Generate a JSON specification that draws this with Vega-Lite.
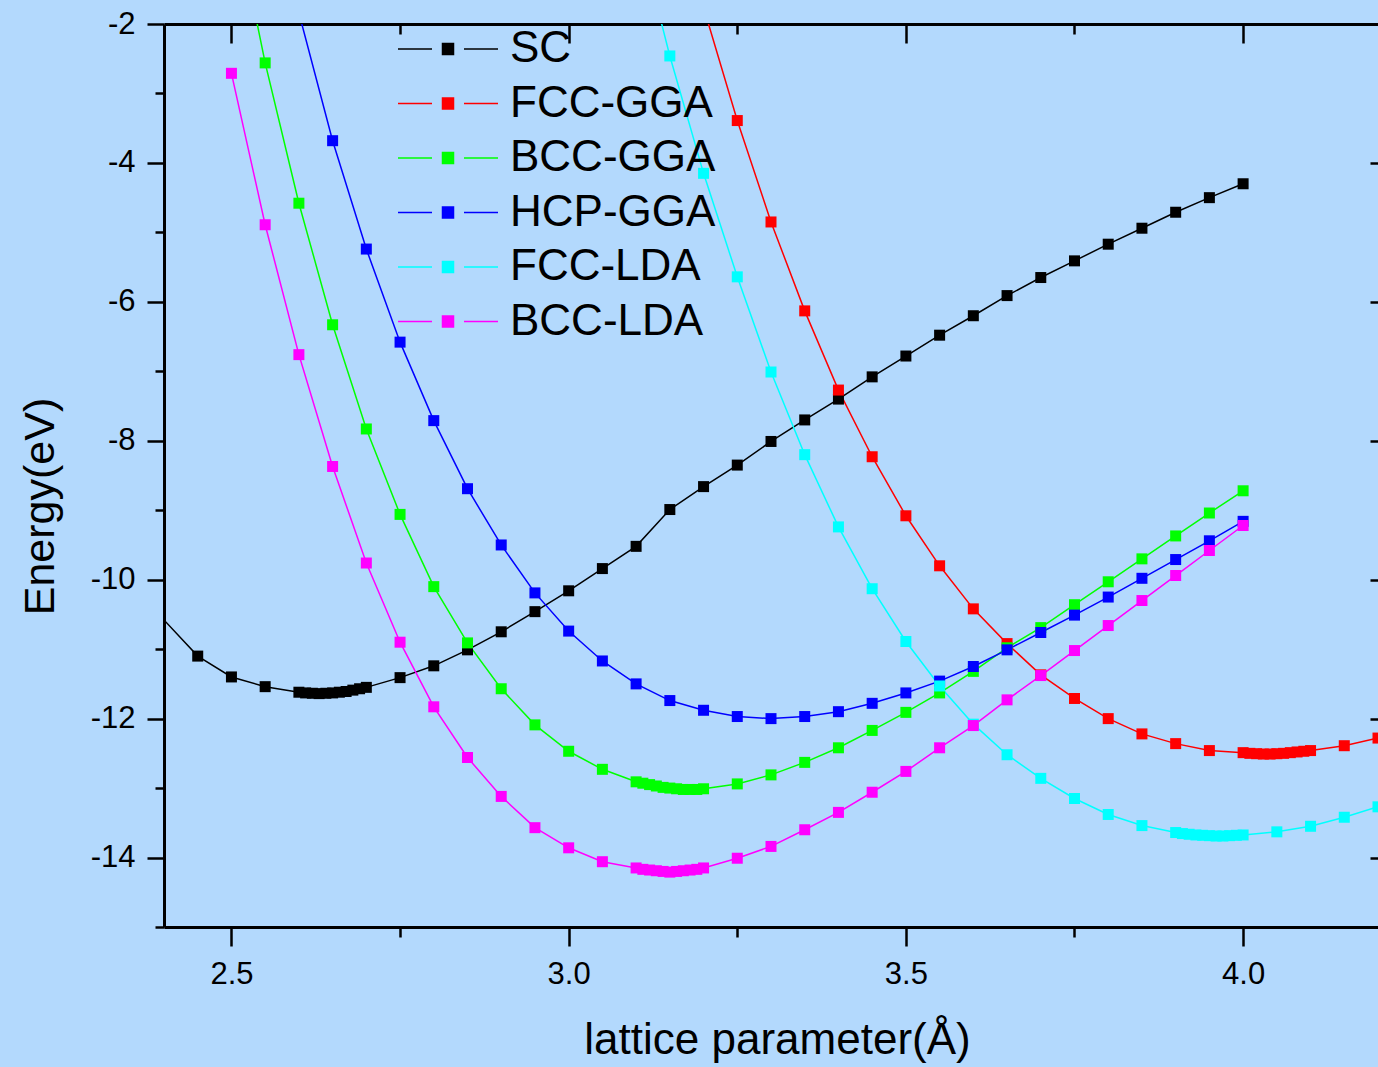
{
  "$schema": "https://vega.github.io/schema/vega-lite/v6.json",
  "autosize": "none",
  "width": 1214,
  "height": 903,
  "padding": {"left": 164, "top": 24, "right": 0, "bottom": 140},
  "background": "#b3d9fd",
  "config": {
    "view": {"stroke": null},
    "font": "Liberation Sans",
    "axis": {"grid": false, "domainColor": "black", "domainWidth": 3, "tickColor": "black", "tickWidth": 2.5, "labelColor": "black", "titleColor": "black", "titleFontWeight": "normal", "labelFont": "Liberation Sans", "titleFont": "Liberation Sans"},
    "legend": {"orient": "none", "legendX": 262, "legendY": 3, "title": null, "padding": 0,
      "symbolType": "M-5,0H-1.6M1.6,0H5M-0.55,-0.55H0.55V0.55H-0.55Z", "symbolSize": 400, "symbolStrokeWidth": 1.5,
      "labelFontSize": 44, "labelFont": "Liberation Sans", "labelColor": "black", "labelOffset": 40, "rowPadding": 10.5, "labelLimit": 0}
  },
  "data": {"values": [
    {"s":"SC","x":2.35,"y":-10.06},{"s":"SC","x":2.45,"y":-11.10},{"s":"SC","x":2.50,"y":-11.40},{"s":"SC","x":2.55,"y":-11.54},
    {"s":"SC","x":2.60,"y":-11.62},{"s":"SC","x":2.61,"y":-11.63},{"s":"SC","x":2.62,"y":-11.635},{"s":"SC","x":2.63,"y":-11.64},{"s":"SC","x":2.64,"y":-11.635},{"s":"SC","x":2.65,"y":-11.63},{"s":"SC","x":2.66,"y":-11.62},{"s":"SC","x":2.67,"y":-11.61},{"s":"SC","x":2.68,"y":-11.59},{"s":"SC","x":2.69,"y":-11.57},{"s":"SC","x":2.70,"y":-11.55},
    {"s":"SC","x":2.75,"y":-11.41},{"s":"SC","x":2.80,"y":-11.24},{"s":"SC","x":2.85,"y":-11.01},{"s":"SC","x":2.90,"y":-10.75},{"s":"SC","x":2.95,"y":-10.46},{"s":"SC","x":3.00,"y":-10.16},{"s":"SC","x":3.05,"y":-9.84},{"s":"SC","x":3.10,"y":-9.52},{"s":"SC","x":3.15,"y":-8.99},{"s":"SC","x":3.20,"y":-8.66},{"s":"SC","x":3.25,"y":-8.35},{"s":"SC","x":3.30,"y":-8.01},{"s":"SC","x":3.35,"y":-7.70},{"s":"SC","x":3.40,"y":-7.40},{"s":"SC","x":3.45,"y":-7.08},{"s":"SC","x":3.50,"y":-6.78},{"s":"SC","x":3.55,"y":-6.48},{"s":"SC","x":3.60,"y":-6.20},{"s":"SC","x":3.65,"y":-5.91},{"s":"SC","x":3.70,"y":-5.65},{"s":"SC","x":3.75,"y":-5.41},{"s":"SC","x":3.80,"y":-5.17},{"s":"SC","x":3.85,"y":-4.94},{"s":"SC","x":3.90,"y":-4.71},{"s":"SC","x":3.95,"y":-4.50},{"s":"SC","x":4.00,"y":-4.30},

    {"s":"FCC-GGA","x":3.20,"y":-1.76},{"s":"FCC-GGA","x":3.25,"y":-3.39},{"s":"FCC-GGA","x":3.30,"y":-4.85},{"s":"FCC-GGA","x":3.35,"y":-6.13},{"s":"FCC-GGA","x":3.40,"y":-7.27},{"s":"FCC-GGA","x":3.45,"y":-8.23},{"s":"FCC-GGA","x":3.50,"y":-9.08},{"s":"FCC-GGA","x":3.55,"y":-9.80},{"s":"FCC-GGA","x":3.60,"y":-10.42},{"s":"FCC-GGA","x":3.65,"y":-10.92},{"s":"FCC-GGA","x":3.70,"y":-11.37},{"s":"FCC-GGA","x":3.75,"y":-11.71},{"s":"FCC-GGA","x":3.80,"y":-12.00},{"s":"FCC-GGA","x":3.85,"y":-12.22},{"s":"FCC-GGA","x":3.90,"y":-12.36},{"s":"FCC-GGA","x":3.95,"y":-12.46},
    {"s":"FCC-GGA","x":4.00,"y":-12.49},{"s":"FCC-GGA","x":4.01,"y":-12.50},{"s":"FCC-GGA","x":4.02,"y":-12.505},{"s":"FCC-GGA","x":4.03,"y":-12.51},{"s":"FCC-GGA","x":4.04,"y":-12.51},{"s":"FCC-GGA","x":4.05,"y":-12.505},{"s":"FCC-GGA","x":4.06,"y":-12.50},{"s":"FCC-GGA","x":4.07,"y":-12.49},{"s":"FCC-GGA","x":4.08,"y":-12.48},{"s":"FCC-GGA","x":4.09,"y":-12.47},{"s":"FCC-GGA","x":4.10,"y":-12.46},
    {"s":"FCC-GGA","x":4.15,"y":-12.39},{"s":"FCC-GGA","x":4.20,"y":-12.28},

    {"s":"BCC-GGA","x":2.50,"y":-0.18},{"s":"BCC-GGA","x":2.55,"y":-2.56},{"s":"BCC-GGA","x":2.60,"y":-4.58},{"s":"BCC-GGA","x":2.65,"y":-6.33},{"s":"BCC-GGA","x":2.70,"y":-7.83},{"s":"BCC-GGA","x":2.75,"y":-9.06},{"s":"BCC-GGA","x":2.80,"y":-10.10},{"s":"BCC-GGA","x":2.85,"y":-10.91},{"s":"BCC-GGA","x":2.90,"y":-11.57},{"s":"BCC-GGA","x":2.95,"y":-12.09},{"s":"BCC-GGA","x":3.00,"y":-12.47},{"s":"BCC-GGA","x":3.05,"y":-12.73},
    {"s":"BCC-GGA","x":3.10,"y":-12.91},{"s":"BCC-GGA","x":3.11,"y":-12.93},{"s":"BCC-GGA","x":3.12,"y":-12.95},{"s":"BCC-GGA","x":3.13,"y":-12.97},{"s":"BCC-GGA","x":3.14,"y":-12.99},{"s":"BCC-GGA","x":3.15,"y":-13.00},{"s":"BCC-GGA","x":3.16,"y":-13.01},{"s":"BCC-GGA","x":3.17,"y":-13.02},{"s":"BCC-GGA","x":3.18,"y":-13.02},{"s":"BCC-GGA","x":3.19,"y":-13.02},{"s":"BCC-GGA","x":3.20,"y":-13.01},
    {"s":"BCC-GGA","x":3.25,"y":-12.94},{"s":"BCC-GGA","x":3.30,"y":-12.81},{"s":"BCC-GGA","x":3.35,"y":-12.63},{"s":"BCC-GGA","x":3.40,"y":-12.42},{"s":"BCC-GGA","x":3.45,"y":-12.17},{"s":"BCC-GGA","x":3.50,"y":-11.91},{"s":"BCC-GGA","x":3.55,"y":-11.63},{"s":"BCC-GGA","x":3.60,"y":-11.32},{"s":"BCC-GGA","x":3.65,"y":-10.98},{"s":"BCC-GGA","x":3.70,"y":-10.69},{"s":"BCC-GGA","x":3.75,"y":-10.36},{"s":"BCC-GGA","x":3.80,"y":-10.03},{"s":"BCC-GGA","x":3.85,"y":-9.70},{"s":"BCC-GGA","x":3.90,"y":-9.37},{"s":"BCC-GGA","x":3.95,"y":-9.04},{"s":"BCC-GGA","x":4.00,"y":-8.72},

    {"s":"HCP-GGA","x":2.60,"y":-1.84},{"s":"HCP-GGA","x":2.65,"y":-3.68},{"s":"HCP-GGA","x":2.70,"y":-5.24},{"s":"HCP-GGA","x":2.75,"y":-6.58},{"s":"HCP-GGA","x":2.80,"y":-7.71},{"s":"HCP-GGA","x":2.85,"y":-8.69},{"s":"HCP-GGA","x":2.90,"y":-9.50},{"s":"HCP-GGA","x":2.95,"y":-10.19},{"s":"HCP-GGA","x":3.00,"y":-10.74},{"s":"HCP-GGA","x":3.05,"y":-11.17},{"s":"HCP-GGA","x":3.10,"y":-11.50},{"s":"HCP-GGA","x":3.15,"y":-11.74},{"s":"HCP-GGA","x":3.20,"y":-11.88},{"s":"HCP-GGA","x":3.25,"y":-11.97},{"s":"HCP-GGA","x":3.30,"y":-12.00},{"s":"HCP-GGA","x":3.35,"y":-11.97},{"s":"HCP-GGA","x":3.40,"y":-11.90},{"s":"HCP-GGA","x":3.45,"y":-11.78},{"s":"HCP-GGA","x":3.50,"y":-11.63},{"s":"HCP-GGA","x":3.55,"y":-11.46},{"s":"HCP-GGA","x":3.60,"y":-11.25},{"s":"HCP-GGA","x":3.65,"y":-11.01},{"s":"HCP-GGA","x":3.70,"y":-10.76},{"s":"HCP-GGA","x":3.75,"y":-10.51},{"s":"HCP-GGA","x":3.80,"y":-10.25},{"s":"HCP-GGA","x":3.85,"y":-9.98},{"s":"HCP-GGA","x":3.90,"y":-9.71},{"s":"HCP-GGA","x":3.95,"y":-9.44},{"s":"HCP-GGA","x":4.00,"y":-9.16},

    {"s":"FCC-LDA","x":3.10,"y":-0.55},{"s":"FCC-LDA","x":3.15,"y":-2.46},{"s":"FCC-LDA","x":3.20,"y":-4.15},{"s":"FCC-LDA","x":3.25,"y":-5.64},{"s":"FCC-LDA","x":3.30,"y":-7.01},{"s":"FCC-LDA","x":3.35,"y":-8.20},{"s":"FCC-LDA","x":3.40,"y":-9.24},{"s":"FCC-LDA","x":3.45,"y":-10.13},{"s":"FCC-LDA","x":3.50,"y":-10.89},{"s":"FCC-LDA","x":3.55,"y":-11.53},{"s":"FCC-LDA","x":3.60,"y":-12.08},{"s":"FCC-LDA","x":3.65,"y":-12.52},{"s":"FCC-LDA","x":3.70,"y":-12.86},{"s":"FCC-LDA","x":3.75,"y":-13.15},{"s":"FCC-LDA","x":3.80,"y":-13.38},{"s":"FCC-LDA","x":3.85,"y":-13.54},
    {"s":"FCC-LDA","x":3.90,"y":-13.64},{"s":"FCC-LDA","x":3.91,"y":-13.655},{"s":"FCC-LDA","x":3.92,"y":-13.665},{"s":"FCC-LDA","x":3.93,"y":-13.675},{"s":"FCC-LDA","x":3.94,"y":-13.68},{"s":"FCC-LDA","x":3.95,"y":-13.685},{"s":"FCC-LDA","x":3.96,"y":-13.69},{"s":"FCC-LDA","x":3.97,"y":-13.69},{"s":"FCC-LDA","x":3.98,"y":-13.685},{"s":"FCC-LDA","x":3.99,"y":-13.68},{"s":"FCC-LDA","x":4.00,"y":-13.675},
    {"s":"FCC-LDA","x":4.05,"y":-13.63},{"s":"FCC-LDA","x":4.10,"y":-13.55},{"s":"FCC-LDA","x":4.15,"y":-13.42},{"s":"FCC-LDA","x":4.20,"y":-13.27},

    {"s":"BCC-LDA","x":2.50,"y":-2.71},{"s":"BCC-LDA","x":2.55,"y":-4.89},{"s":"BCC-LDA","x":2.60,"y":-6.76},{"s":"BCC-LDA","x":2.65,"y":-8.37},{"s":"BCC-LDA","x":2.70,"y":-9.76},{"s":"BCC-LDA","x":2.75,"y":-10.90},{"s":"BCC-LDA","x":2.80,"y":-11.83},{"s":"BCC-LDA","x":2.85,"y":-12.56},{"s":"BCC-LDA","x":2.90,"y":-13.12},{"s":"BCC-LDA","x":2.95,"y":-13.57},{"s":"BCC-LDA","x":3.00,"y":-13.86},{"s":"BCC-LDA","x":3.05,"y":-14.06},
    {"s":"BCC-LDA","x":3.10,"y":-14.15},{"s":"BCC-LDA","x":3.11,"y":-14.17},{"s":"BCC-LDA","x":3.12,"y":-14.18},{"s":"BCC-LDA","x":3.13,"y":-14.19},{"s":"BCC-LDA","x":3.14,"y":-14.20},{"s":"BCC-LDA","x":3.15,"y":-14.21},{"s":"BCC-LDA","x":3.16,"y":-14.20},{"s":"BCC-LDA","x":3.17,"y":-14.19},{"s":"BCC-LDA","x":3.18,"y":-14.18},{"s":"BCC-LDA","x":3.19,"y":-14.17},{"s":"BCC-LDA","x":3.20,"y":-14.15},
    {"s":"BCC-LDA","x":3.25,"y":-14.01},{"s":"BCC-LDA","x":3.30,"y":-13.84},{"s":"BCC-LDA","x":3.35,"y":-13.60},{"s":"BCC-LDA","x":3.40,"y":-13.35},{"s":"BCC-LDA","x":3.45,"y":-13.06},{"s":"BCC-LDA","x":3.50,"y":-12.76},{"s":"BCC-LDA","x":3.55,"y":-12.42},{"s":"BCC-LDA","x":3.60,"y":-12.10},{"s":"BCC-LDA","x":3.65,"y":-11.73},{"s":"BCC-LDA","x":3.70,"y":-11.38},{"s":"BCC-LDA","x":3.75,"y":-11.02},{"s":"BCC-LDA","x":3.80,"y":-10.66},{"s":"BCC-LDA","x":3.85,"y":-10.30},{"s":"BCC-LDA","x":3.90,"y":-9.94},{"s":"BCC-LDA","x":3.95,"y":-9.58},{"s":"BCC-LDA","x":4.00,"y":-9.22}
  ]},
  "resolve": {"axis": {"x": "independent", "y": "independent"}},
  "layer": [
    {
      "mark": {"type": "line", "strokeWidth": 1.5, "clip": true},
      "encoding": {
        "x": {"field": "x", "type": "quantitative", "scale": {"domain": [2.4, 4.2], "nice": false, "zero": false},
          "axis": {"orient": "bottom", "values": [2.5, 2.75, 3.0, 3.25, 3.5, 3.75, 4.0],
            "tickSize": {"condition": {"test": "abs(datum.value*2 - round(datum.value*2)) < 0.001", "value": 19}, "value": 10},
            "labelExpr": "abs(datum.value*2 - round(datum.value*2)) < 0.001 ? format(datum.value, '.1f') : ''",
            "labelFontSize": 31, "labelPadding": 13, "labelFlush": false, "labelOverlap": false,
            "title": "lattice parameter(Å)", "titleFontSize": 44, "titleX": 613, "titleY": 126, "titleBaseline": "alphabetic", "titleAlign": "center"}},
        "y": {"field": "y", "type": "quantitative", "scale": {"domain": [-15, -2], "nice": false, "zero": false},
          "axis": {"orient": "left", "values": [-15,-14,-13,-12,-11,-10,-9,-8,-7,-6,-5,-4,-3,-2],
            "tickSize": {"condition": {"test": "datum.value % 2 === 0", "value": 17}, "value": 9},
            "labelExpr": "datum.value % 2 === 0 ? '-' + format(abs(datum.value), 'd') : ''",
            "labelFontSize": 31, "labelPadding": 12, "labelFlush": false, "labelOverlap": false,
            "title": "Energy(eV)", "titleFontSize": 43, "titleAngle": 270, "titleX": -124, "titleY": 482, "titleBaseline": "middle", "titleAlign": "center"}},
        "color": {"field": "s", "type": "nominal",
          "scale": {"domain": ["SC", "FCC-GGA", "BCC-GGA", "HCP-GGA", "FCC-LDA", "BCC-LDA"], "range": ["#000000", "#ff0000", "#00ff00", "#0000ff", "#00ffff", "#ff00ff"]}},
        "order": {"field": "x", "type": "quantitative"}
      }
    },
    {
      "mark": {"type": "point", "shape": "square", "filled": true, "size": 121, "opacity": 1, "clip": true},
      "encoding": {
        "x": {"field": "x", "type": "quantitative",
          "axis": {"orient": "top", "values": [2.5, 2.75, 3.0, 3.25, 3.5, 3.75, 4.0],
            "tickSize": {"condition": {"test": "abs(datum.value*2 - round(datum.value*2)) < 0.001", "value": -19}, "value": -10},
            "labels": false, "title": null}},
        "y": {"field": "y", "type": "quantitative",
          "axis": {"orient": "right", "values": [-14,-12,-10,-8,-6,-4,-2], "tickSize": -8, "domain": false, "labels": false, "title": null}},
        "color": {"field": "s", "type": "nominal",
          "legend": {"encode": {"symbols": {"update": {"fill": {"scale": "color", "field": "value"}, "stroke": {"scale": "color", "field": "value"}, "opacity": {"value": 1}}}}}}
      }
    }
  ]
}
